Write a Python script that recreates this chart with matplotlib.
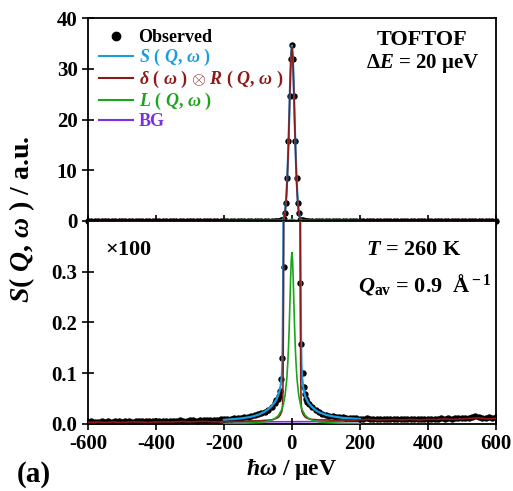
import numpy as np
import matplotlib
matplotlib.use("Agg")
import matplotlib.pyplot as plt
from matplotlib.lines import Line2D

# ---- observed data (energy transfer in ueV, intensity in a.u.) ----
obs_x_left = [-600, -590, -580, -570, -560, -550, -540, -530, -520, -510,
              -500, -490, -480, -470, -460, -450, -440, -430, -420, -410,
              -400, -390, -380, -370, -360, -350, -340, -330, -320, -310,
              -300, -290, -280, -270, -260, -250, -240, -230, -220, -210,
              -200, -190, -180, -170, -160, -150, -140, -130, -120, -110,
              -100, -90, -80, -70, -60, -50]
obs_y_left = [0.004, 0.005, 0.004, 0.004, 0.005, 0.004, 0.005, 0.004, 0.005, 0.005,
              0.004, 0.005, 0.005, 0.004, 0.005, 0.006, 0.005, 0.005, 0.006, 0.005,
              0.006, 0.005, 0.006, 0.006, 0.005, 0.006, 0.006, 0.007, 0.006, 0.006,
              0.007, 0.007, 0.006, 0.007, 0.007, 0.008, 0.007, 0.008, 0.008, 0.009,
              0.009, 0.009, 0.010, 0.011, 0.011, 0.012, 0.013, 0.014, 0.015, 0.017,
              0.019, 0.021, 0.024, 0.028, 0.034, 0.042]
obs_x_mid = [-45.5, -42, -38.5, -35, -31.5, -28, -24.5, -21, -17.5, -14, -10.5, -7, -3.5,
             0, 3.5, 7, 10.5, 14, 17.5, 21, 24.5, 28, 31.5, 35, 38.5, 42, 45.5]
obs_y_mid = [0.047, 0.050, 0.055, 0.065, 0.089, 0.13, 0.31, 1.5, 3.5, 8.4, 15.8, 24.6, 32.0,
             34.7, 31.9, 24.6, 15.8, 8.4, 3.5, 1.5, 0.277, 0.158, 0.10, 0.072, 0.060, 0.050, 0.044]
obs_x_right = [50, 60, 70, 80, 90, 100, 110, 120, 130, 140,
               150, 160, 170, 180, 190, 200, 210, 220, 230, 240,
               250, 260, 270, 280, 290, 300, 310, 320, 330, 340,
               350, 360, 370, 380, 390, 400, 410, 420, 430, 440,
               450, 460, 470, 480, 490, 500, 510, 520, 530, 540,
               550, 560, 570, 580, 590, 600]
obs_y_right = [0.040, 0.033, 0.027, 0.023, 0.020, 0.018, 0.016, 0.015, 0.014, 0.013,
               0.013, 0.012, 0.012, 0.011, 0.011, 0.010, 0.010, 0.011, 0.009, 0.010,
               0.009, 0.010, 0.009, 0.009, 0.010, 0.009, 0.010, 0.009, 0.009, 0.010,
               0.010, 0.009, 0.010, 0.009, 0.010, 0.010, 0.009, 0.010, 0.010, 0.011,
               0.010, 0.011, 0.010, 0.011, 0.011, 0.012, 0.011, 0.012, 0.014, 0.016,
               0.013, 0.012, 0.011, 0.013, 0.012, 0.013]

# ---- fit components ----
s_x = [-200, -150, -120, -100, -80, -70, -60, -50, -45, -40, -36, -33, -30, -28, -27, -26,
       -25, -24, -22, -20, -18, -16, -14, -12, -10, -8, -6, -4, -2, 0,
       2, 4, 6, 8, 10, 12, 14, 16, 18, 20, 22, 24, 25, 26, 27, 28, 30, 33, 36, 40,
       45, 50, 60, 70, 80, 100, 120, 150, 200]
s_y = [0.008, 0.011, 0.014, 0.018, 0.024, 0.029, 0.035, 0.043, 0.049, 0.057, 0.066, 0.076,
       0.092, 0.12, 0.17, 0.26, 0.38, 0.60, 1.15, 2.0, 3.3, 5.3, 8.0, 11.5, 15.6, 20.3, 25.3,
       29.9, 33.3, 34.6,
       33.3, 29.9, 25.3, 20.3, 15.6, 11.5, 8.0, 5.3, 3.3, 2.0, 1.15, 0.60, 0.38, 0.26, 0.17,
       0.12, 0.092, 0.074, 0.062, 0.053, 0.046, 0.040, 0.033, 0.027, 0.023, 0.018, 0.015,
       0.012, 0.010]

res_x = [-600, -575, -550, -525, -500, -475, -450, -425, -400, -375, -350, -325, -300,
         -275, -250, -225, -200, -175, -150, -125, -100, -80, -60, -50, -40, -35, -30, -28,
         -27, -26, -25, -24, -22, -20, -18, -16, -14, -12, -10, -8, -6, -4, -2, 0,
         2, 4, 6, 8, 10, 12, 14, 16, 18, 20, 22, 24, 25, 26, 27, 28, 30, 35, 40, 50, 60,
         80, 100, 125, 150, 175, 200, 225, 250, 275, 300, 325, 350, 375, 400, 425, 450,
         475, 500, 525, 550, 575, 600]
res_y = [0.003, 0.004, 0.003, 0.004, 0.003, 0.004, 0.004, 0.003, 0.004, 0.004, 0.004, 0.005,
         0.004, 0.005, 0.005, 0.004, 0.005, 0.005, 0.005, 0.006, 0.006, 0.007, 0.008, 0.010,
         0.013, 0.017, 0.024, 0.032, 0.045, 0.09, 0.22, 0.45, 1.0, 1.8, 3.1, 5.0, 7.7, 11.2,
         15.3, 20.0, 25.0, 29.6, 33.0, 34.3,
         33.0, 29.6, 25.0, 20.0, 15.3, 11.2, 7.7, 5.0, 3.1, 1.8, 1.0, 0.45, 0.22, 0.09, 0.045,
         0.032, 0.024, 0.017, 0.013, 0.010, 0.009, 0.008, 0.008, 0.007, 0.008, 0.007, 0.008,
         0.009, 0.008, 0.008, 0.009, 0.008, 0.009, 0.008, 0.009, 0.009, 0.010, 0.009, 0.010,
         0.011, 0.012, 0.010, 0.011]

lor_x = [-200, -150, -100, -80, -60, -50, -40, -30, -25, -20, -15, -12, -10, -8, -6, -4, -2, 0,
         2, 4, 6, 8, 10, 12, 15, 20, 25, 30, 40, 50, 60, 80, 100, 150, 200]
lor_y = [0.0007, 0.0012, 0.0027, 0.0042, 0.0074, 0.0106, 0.0163, 0.028, 0.039, 0.057, 0.089,
         0.122, 0.151, 0.189, 0.234, 0.282, 0.322, 0.338,
         0.322, 0.282, 0.234, 0.189, 0.151, 0.122, 0.089, 0.057, 0.039, 0.028, 0.0163, 0.0106,
         0.0074, 0.0042, 0.0027, 0.0012, 0.0007]

bg_x = [-200, 200]
bg_y = [0.004, 0.005]

x_ticks = [-600, -400, -200, 0, 200, 400, 600]
top_ticks = [0, 10, 20, 30, 40]
bottom_ticks = [0.0, 0.1, 0.2, 0.3]

C_OBS = "black"
C_S = "#1a9ee0"
C_RES = "#8b1a1a"
C_L = "#1aa61a"
C_BG = "#7a2ee6"

plt.rcParams["font.family"] = ["Liberation Serif", "DejaVu Serif"]
plt.rcParams["font.weight"] = "bold"
plt.rcParams["mathtext.fontset"] = "custom"
plt.rcParams["mathtext.rm"] = "Liberation Serif:bold"
plt.rcParams["mathtext.it"] = "Liberation Serif:italic:bold"
plt.rcParams["mathtext.bf"] = "Liberation Serif:bold"

obs_x = obs_x_left + obs_x_mid + obs_x_right
obs_y = obs_y_left + obs_y_mid + obs_y_right

fig = plt.figure(figsize=(5.13, 4.91), dpi=100)
ax_top = fig.add_axes([0.1715, 0.550, 0.795, 0.413])
ax_bot = fig.add_axes([0.1715, 0.1365, 0.795, 0.4135])

for ax in (ax_top, ax_bot):
    # the top panel's baseline sits on the spine, so let it spill over like the original
    clip = ax is ax_bot
    ax.plot(bg_x, bg_y, color=C_BG, lw=1.2, zorder=1, clip_on=clip)
    ax.plot(obs_x, obs_y, "o", color=C_OBS, ms=3.6, zorder=2, clip_on=clip)
    ax.plot(s_x, s_y, color=C_S, lw=1.6, zorder=3, clip_on=clip)
    ax.plot(res_x, res_y, color=C_RES, lw=1.2, zorder=4, clip_on=clip)
    ax.plot(lor_x, lor_y, color=C_L, lw=1.2, zorder=5, clip_on=clip)
    ax.set_xlim(-600, 600)
    ax.set_xticks(x_ticks)
    ax.tick_params(direction="inout", length=8, width=1.2, labelsize=15,
                   top=False, right=False)
    for sp in ax.spines.values():
        sp.set_linewidth(1.3)

ax_top.set_ylim(0, 40)
ax_top.set_yticks(top_ticks)
ax_top.set_yticklabels([str(t) for t in top_ticks], fontweight="bold")
ax_top.tick_params(labelbottom=False)

ax_bot.set_ylim(0, 0.4)
ax_bot.set_yticks(bottom_ticks)
ax_bot.set_yticklabels(["%.1f" % t for t in bottom_ticks], fontweight="bold")
ax_bot.set_xticklabels([str(t) for t in x_ticks], fontweight="bold")

# legend
handles = [
    Line2D([], [], ls="none", marker="o", color=C_OBS, ms=6),
    Line2D([], [], color=C_S, lw=1.5),
    Line2D([], [], color=C_RES, lw=1.5),
    Line2D([], [], color=C_L, lw=1.5),
    Line2D([], [], color=C_BG, lw=1.5),
]
labels = [
    "Observed",
    r"$S$ ( $Q$, $\omega$ )",
    r"$\delta$ ( $\omega$ ) $\otimes$ $R$ ( $Q$, $\omega$ )",
    r"$L$ ( $Q$, $\omega$ )",
    "BG",
]
leg = ax_top.legend(handles, labels, loc="upper left", bbox_to_anchor=(0.0, 1.0),
                    frameon=False, fontsize=13, handlelength=1.9, handletextpad=0.3,
                    labelspacing=0.05, borderaxespad=0.2,
                    labelcolor=[C_OBS, C_S, C_RES, C_L, C_BG])
for t in leg.get_texts():
    t.set_fontweight("bold")

# annotations
ax_top.text(0.82, 0.894, "TOFTOF", transform=ax_top.transAxes, ha="center", va="center",
            fontsize=16, fontweight="bold")
ax_top.text(0.82, 0.776, "$ΔE$ = 20 μeV", transform=ax_top.transAxes,
            ha="center", va="center", fontsize=15, fontweight="bold")
ax_bot.text(0.10, 0.857, r"$\times$100", transform=ax_bot.transAxes, ha="center",
            va="center", fontsize=16, fontweight="bold")
ax_bot.text(0.798, 0.857, r"$T$ = 260 K", transform=ax_bot.transAxes, ha="center",
            va="center", fontsize=16, fontweight="bold")
ax_bot.text(0.825, 0.685, r"$Q_{\rm av}$ = 0.9  Å$^{\rm -1}$", transform=ax_bot.transAxes,
            ha="center", va="center", fontsize=16, fontweight="bold")

ax_bot.set_xlabel(r"$\hbar\omega$ / μeV", fontsize=17, fontweight="bold", labelpad=2)
fig.text(0.043, 0.554, r"$S$( $Q$, $\omega$ ) / a.u.", rotation=90, ha="center",
         va="center", fontsize=20, fontweight="bold")
fig.text(0.065, 0.033, "(a)", ha="center", va="center", fontsize=21, fontweight="bold")

fig.savefig("out.png", dpi=100)
